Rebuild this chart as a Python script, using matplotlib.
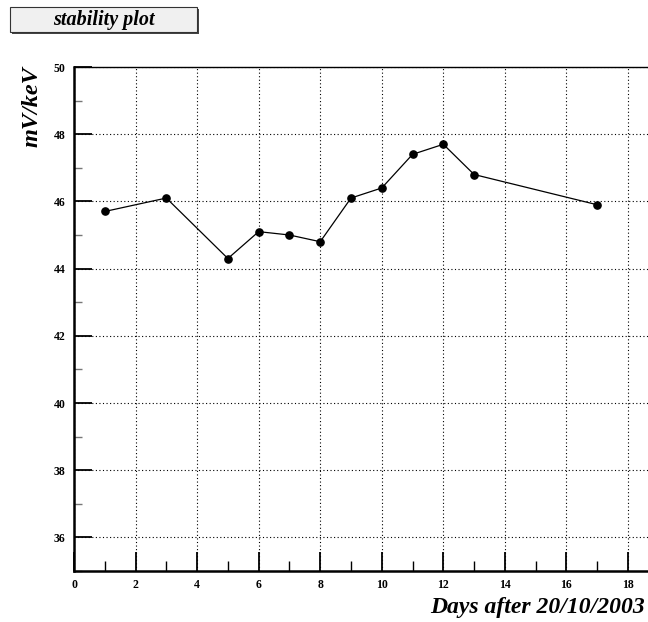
import matplotlib
matplotlib.use("Agg")
import matplotlib.pyplot as plt
from matplotlib.patches import Rectangle
from matplotlib.ticker import MultipleLocator

days = [1, 3, 5, 6, 7, 8, 9, 10, 11, 12, 13, 17]
gain = [45.7, 46.1, 44.3, 45.1, 45.0, 44.8, 46.1, 46.4, 47.4, 47.7, 46.8, 45.9]

title_text = "stability plot"
x_title = "Days after 20/10/2003"
y_title = "mV/keV"

serif = ["Liberation Serif", "DejaVu Serif"]

fig = plt.figure(figsize=(6.48, 6.22), dpi=100)
ax = fig.add_axes([74 / 648, 51 / 622, 1 - 74 / 648, 504 / 622])

ax.plot(days, gain, color="black", lw=0.9, marker="o", ms=5.2,
        markerfacecolor="black", markeredgecolor="black", zorder=3)

ax.set_xlim(0, 18.65)
ax.set_ylim(35, 50)

ax.xaxis.set_major_locator(MultipleLocator(2))
ax.xaxis.set_minor_locator(MultipleLocator(1))
ax.yaxis.set_major_locator(MultipleLocator(2))
ax.yaxis.set_minor_locator(MultipleLocator(1))

ax.grid(True, which="major", color="black", linestyle=(0, (1, 2.2)), lw=0.8)

ax.tick_params(axis="x", which="major", direction="in", length=14, width=1.3,
               pad=6, labelsize=8.5, color="black")
ax.tick_params(axis="x", which="minor", direction="in", length=7, width=1.0)
ax.tick_params(axis="y", which="major", direction="in", length=13, width=1.3,
               pad=6, labelsize=8.5)
ax.tick_params(axis="y", which="minor", direction="in", length=6, width=1.0,
               color="#777777")
ax.tick_params(top=False, right=False)

ax.set_yticks([36, 38, 40, 42, 44, 46, 48, 50])

for lbl in ax.get_xticklabels() + ax.get_yticklabels():
    lbl.set_fontfamily(serif)
    lbl.set_fontweight("bold")

ax.spines["left"].set_linewidth(1.8)
ax.spines["bottom"].set_linewidth(1.8)
ax.spines["top"].set_linewidth(1.0)
ax.spines["right"].set_visible(False)

fig.text(645 / 648, 1 - 608 / 622, x_title, ha="right", va="center",
         fontsize=17, fontweight="bold", fontstyle="italic", family=serif)
fig.text(32 / 648, 1 - 107 / 622, y_title, ha="center", va="center",
         rotation=90, fontsize=17.5, fontweight="bold", fontstyle="italic",
         family=serif)

# title box with a drop shadow
shadow = Rectangle((12 / 648, 1 - 34 / 622), 187 / 648, 25 / 622,
                   transform=fig.transFigure, facecolor="#444444",
                   edgecolor="none")
box = Rectangle((10 / 648, 1 - 32 / 622), 187 / 648, 25 / 622,
                transform=fig.transFigure, facecolor="#f0f0f0",
                edgecolor="#333333", lw=0.8)
fig.patches.extend([shadow, box])
fig.text(104 / 648, 1 - 19.5 / 622, title_text, ha="center", va="center",
         fontsize=14.5, fontweight="bold", fontstyle="italic", family=serif)

fig.savefig("out.png", dpi=100)
